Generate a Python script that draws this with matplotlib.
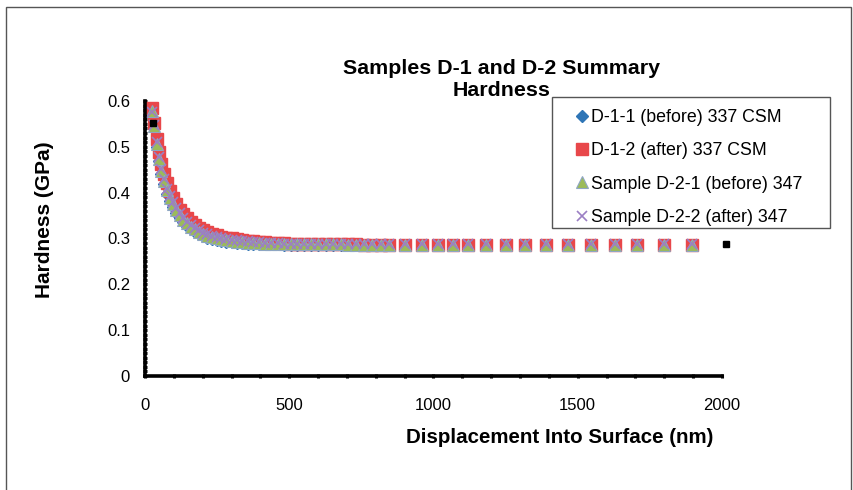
import matplotlib
matplotlib.use("Agg")
import matplotlib.pyplot as plt
from matplotlib.patches import Rectangle
from matplotlib.ticker import MultipleLocator, FuncFormatter

plt.rcParams["font.family"] = ["Liberation Sans", "DejaVu Sans"]

# displacement into surface (nm), shared by all four runs
displacement = [25, 32, 40, 48, 57, 66, 76, 86, 97, 108,
                120, 132, 145, 158, 172, 186, 201, 216, 232, 248,
                265, 282, 300, 318, 337, 356, 376, 396, 417, 438,
                460, 482, 505, 528, 552, 576, 601, 626, 652, 678,
                705, 732, 760, 788, 817, 846, 900, 959, 1017, 1069,
                1121, 1183, 1252, 1317, 1390, 1466, 1545, 1628, 1707, 1800,
                1897]

# hardness (GPa)
d11_before = [0.580, 0.540, 0.500, 0.468, 0.440, 0.418, 0.398, 0.382, 0.368, 0.356,
              0.345, 0.336, 0.328, 0.321, 0.315, 0.310, 0.306, 0.302, 0.299, 0.297,
              0.295, 0.293, 0.292, 0.291, 0.290, 0.289, 0.288, 0.288, 0.287, 0.287,
              0.287, 0.286, 0.286, 0.286, 0.286, 0.286, 0.286, 0.286, 0.286, 0.286,
              0.286, 0.286, 0.286, 0.286, 0.286, 0.286, 0.286, 0.286, 0.286, 0.286,
              0.286, 0.286, 0.286, 0.286, 0.286, 0.286, 0.286, 0.286, 0.286, 0.286,
              0.286]
d12_after = [0.585, 0.552, 0.518, 0.488, 0.462, 0.440, 0.420, 0.403, 0.388, 0.375,
             0.363, 0.353, 0.344, 0.336, 0.329, 0.323, 0.318, 0.314, 0.310, 0.307,
             0.304, 0.302, 0.300, 0.298, 0.296, 0.295, 0.294, 0.293, 0.292, 0.291,
             0.290, 0.290, 0.289, 0.289, 0.288, 0.288, 0.288, 0.287, 0.287, 0.287,
             0.287, 0.287, 0.286, 0.286, 0.286, 0.286, 0.286, 0.286, 0.286, 0.286,
             0.286, 0.286, 0.285, 0.285, 0.285, 0.285, 0.285, 0.285, 0.285, 0.285,
             0.285]
d21_before = [0.578, 0.545, 0.506, 0.474, 0.447, 0.425, 0.405, 0.389, 0.375, 0.362,
              0.351, 0.341, 0.333, 0.326, 0.320, 0.314, 0.310, 0.306, 0.303, 0.300,
              0.298, 0.296, 0.295, 0.293, 0.292, 0.291, 0.290, 0.290, 0.289, 0.289,
              0.288, 0.288, 0.288, 0.287, 0.287, 0.287, 0.287, 0.287, 0.287, 0.287,
              0.286, 0.286, 0.286, 0.286, 0.286, 0.286, 0.286, 0.286, 0.286, 0.286,
              0.286, 0.286, 0.286, 0.286, 0.286, 0.286, 0.286, 0.286, 0.286, 0.286,
              0.286]
d22_after = [0.575, 0.548, 0.510, 0.478, 0.451, 0.429, 0.409, 0.393, 0.379, 0.366,
             0.355, 0.345, 0.337, 0.330, 0.323, 0.318, 0.313, 0.309, 0.306, 0.303,
             0.301, 0.299, 0.297, 0.296, 0.295, 0.294, 0.293, 0.292, 0.291, 0.290,
             0.290, 0.289, 0.289, 0.289, 0.288, 0.288, 0.288, 0.288, 0.288, 0.288,
             0.288, 0.288, 0.288, 0.288, 0.288, 0.288, 0.288, 0.288, 0.288, 0.288,
             0.288, 0.288, 0.288, 0.288, 0.288, 0.288, 0.288, 0.288, 0.288, 0.288,
             0.288]

# stray black points left over in the original sheet
stray_x = [28, 2015]
stray_y = [0.552, 0.289]

labels = ["D-1-1 (before) 337 CSM", "D-1-2 (after) 337 CSM",
          "Sample D-2-1 (before) 347", "Sample D-2-2 (after) 347"]

fig = plt.figure(figsize=(8.54, 4.90), dpi=100)
ax = fig.add_axes([145 / 854, 1 - 376 / 490, (722 - 145) / 854, (376 - 101) / 490])

ax.plot(displacement, d11_before, ls="none", marker="D", ms=6.5, color="#2e75b6", label=labels[0])
ax.plot(displacement, d12_after, ls="none", marker="s", ms=8.5, color="#e8474a", label=labels[1])
ax.plot(displacement, d21_before, ls="none", marker="^", ms=8, color="#9bbb59",
        markeredgecolor="#8ea6c4", markeredgewidth=0.8, label=labels[2])
ax.plot(displacement, d22_after, ls="none", marker="x", ms=7.5, mew=1.2, color="#9b7fc4", label=labels[3])
ax.plot(stray_x, stray_y, ls="none", marker="s", ms=4, color="black", clip_on=False)

ax.set_xlim(0, 2000)
ax.set_ylim(0, 0.6)
ax.xaxis.set_major_locator(MultipleLocator(500))
ax.xaxis.set_minor_locator(MultipleLocator(100))
ax.yaxis.set_major_locator(MultipleLocator(0.1))
ax.yaxis.set_minor_locator(MultipleLocator(0.01))
ax.xaxis.set_major_formatter(FuncFormatter(lambda v, _: f"{v:g}"))
ax.yaxis.set_major_formatter(FuncFormatter(lambda v, _: f"{round(v, 2):g}"))
ax.tick_params(which="both", direction="inout", length=3.5, width=2.2, color="black",
               labelsize=12)
ax.tick_params(axis="x", pad=14)
ax.tick_params(axis="y", pad=9)
for side in ("top", "right"):
    ax.spines[side].set_visible(False)
for side in ("left", "bottom"):
    ax.spines[side].set_linewidth(2.6)
    ax.spines[side].set_color("black")

fig.text(502 / 854, 1 - 80 / 490, "Samples D-1 and D-2 Summary\nHardness", ha="center", va="center",
         fontsize=15.4, fontweight="bold", linespacing=1.2, zorder=1)
fig.text(45 / 854, 1 - 220 / 490, "Hardness (GPa)", rotation=90, ha="center", va="center",
         fontsize=15, fontweight="bold")
fig.text(560 / 854, 1 - 437 / 490, "Displacement Into Surface (nm)", ha="center", va="center",
         fontsize=14.8, fontweight="bold")

# legend box sits on top of the title, as in the original sheet
fig.patches.append(Rectangle((552 / 854, 1 - 228 / 490), (830 - 552) / 854, (228 - 97) / 490,
                             transform=fig.transFigure, facecolor="white", edgecolor="#555555",
                             lw=1.0, zorder=3))
leg = fig.legend(loc="upper left", bbox_to_anchor=(576 / 854, 1 - 109 / 490), fontsize=12.8,
                 frameon=False, handlelength=0.7, handletextpad=0.15, labelspacing=0.92,
                 borderpad=0, borderaxespad=0)
leg.set_zorder(5)

fig.patches.append(Rectangle((6 / 854, -0.02), (851 - 6) / 854, (1 - 7 / 490) + 0.02,
                             transform=fig.transFigure, fill=False, edgecolor="#555555", lw=1))

fig.savefig("out.png", dpi=100)
